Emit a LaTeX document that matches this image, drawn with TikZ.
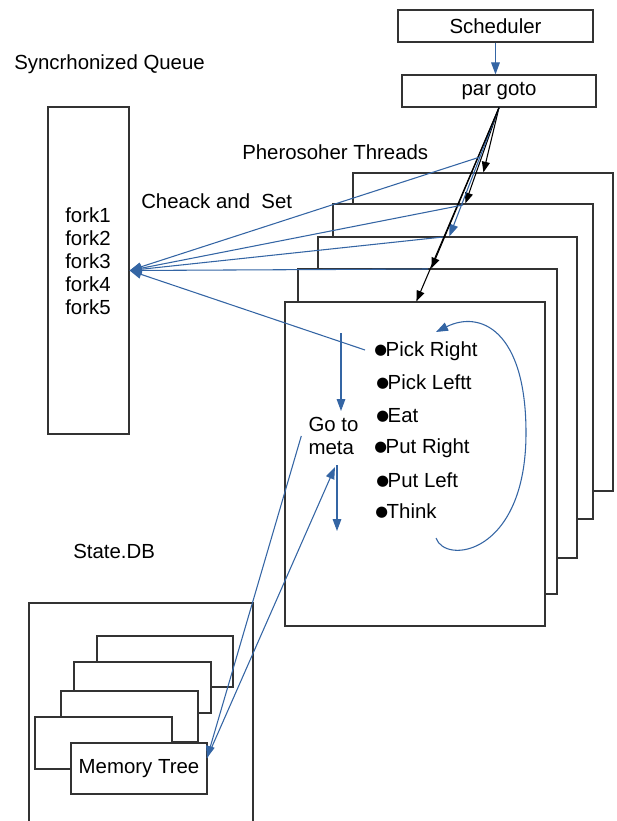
\documentclass[tikz,border=0pt]{standalone}
\usepackage{fontspec}
\setmainfont{Liberation Sans}
\newfontfamily\dejavu{DejaVu Sans}
\usetikzlibrary{arrows.meta,calc}
\definecolor{lblue}{RGB}{52,101,164}
\newcommand\bul{\raisebox{0.8pt}{\dejavu\fontsize{11}{11}\selectfont ●}\kern-1pt}
\tikzset{
  pg/.style 2 args={draw=black!80,line width=0.9pt,fill=white,inner sep=0pt,
    minimum width=#1*0.75pt,minimum height=#2*0.75pt},
  lbl/.style={anchor=base west,inner sep=0pt},
  barrow/.style={draw=lblue,line width=0.8pt,-{Triangle[length=9pt,width=6.5pt]}},
  bline/.style={draw=lblue,line width=0.8pt},
  karrow/.style={draw=black,line width=0.8pt,-{Triangle[length=8pt,width=6pt]}}
}
\begin{document}
\begin{tikzpicture}[x=0.75pt,y=-0.75pt,font=\fontsize{15.3}{17.25}\selectfont]
\useasboundingbox (0,0) rectangle (617,821);
\clip (0,0) rectangle (617,821);

% top boxes
\node[pg={195}{32}] (sched) at (495.5,26) {Scheduler};
\node[pg={194}{32}] (pargoto) at (499,91) {\raisebox{-1.5pt}{par goto}};

% thread pages
\node[pg={260}{318}] (p1) at (483,332) {};
\node[pg={260}{315}] (p2) at (463,361.5) {};
\node[pg={259}{321}] (p3) at (447.5,397.5) {};
\node[pg={259}{325}] (p4) at (427.5,431.5) {};
\node[pg={260}{324}] (p5) at (415,464) {};

% fork box
\node[pg={81}{327}] (fork) at (88.5,270.5) {};
\node[inner sep=0pt,align=center] (forks) at (88,261) {fork1\\fork2\\fork3\\fork4\\fork5};

% state db
\node[pg={224}{240}] (state) at (141,723) {};
\node[pg={136}{51}] (m1) at (165,661.5) {};
\node[pg={137}{51}] (m2) at (142.5,687.5) {};
\node[pg={137}{51}] (m3) at (129.5,716.5) {};
\node[pg={137}{52}] (m4) at (103.5,743) {};
\node[pg={136}{51}] (mem) at (139,768.5) {Memory Tree};

% labels
\node[lbl] (tq) at (14,69) {Syncrhonized Queue};
\node[lbl] (tcs) at (141,208) {Cheack and\ \ Set};
\node[lbl] (tpt) at (242,159) {Pherosoher Threads};
\node[lbl] (tdb) at (73,558) {State.DB};

% items
\node[lbl] (i1) at (374,356) {\bul Pick Right};
\node[lbl] (i2) at (376,389) {\bul Pick Leftt};
\node[lbl] (i3) at (376,422) {\bul Eat};
\node[lbl] (i4) at (374,453) {\bul Put Right};
\node[lbl] (i5) at (376,487) {\bul Put Left};
\node[lbl] (i6) at (375,518) {\bul Think};
\node[inner sep=0pt,align=left] (goto) at (333.5,436) {Go to\\meta};

% scheduler -> par goto
\draw[barrow] (sched.south) -- (sched.south |- pargoto.north);

% par goto -> threads
\draw[karrow] (pargoto.south) -- ($(p1.north west)+(131,0)$);
\draw[karrow] (pargoto.south) -- ($(p2.north west)+(133,0)$);
\draw[barrow] (pargoto.south) -- ($(p3.north west)+(132,0)$);
\draw[karrow] (pargoto.south) -- ($(p4.north west)+(134,0)$);
\draw[karrow] (pargoto.south) -- ($(p5.north west)+(132,0)$);

% check and set lines
\coordinate (c1) at (480,157);
\coordinate (c2) at (463,205);
\coordinate (c3) at (443,237);
\coordinate (c4) at (428,269);
\coordinate (c5) at (365,350);
\draw[barrow] (c1) -- (fork.east);
\draw[barrow] (c2) -- (fork.east);
\draw[barrow] (c3) -- (fork.east);
\draw[barrow] (c4) -- (fork.east);
\draw[barrow] (c5) -- (fork.east);

% go to meta arrows
\coordinate (a1) at (341,333);
\coordinate (a2) at (341,411);
\coordinate (b1) at (337,465);
\coordinate (b2) at (337,531);
\draw[barrow] (a1) -- (a2);
\draw[barrow] (b1) -- (b2);
\coordinate (mt) at (207,758);
\coordinate (gm) at (335,467);
\draw[barrow] ([xshift=-5.25pt]goto.west) -- (mt);
\draw[barrow] (mt) -- (gm);

% loop curve
\coordinate (cv1) at (436,538);
\coordinate (cv2) at (526,433);
\coordinate (cv3) at (436,332);
\draw[barrow] (cv1) .. controls (445,565) and (526,555) .. (cv2)
  .. controls (526,330) and (480,310) .. (cv3);
\end{tikzpicture}
\end{document}
